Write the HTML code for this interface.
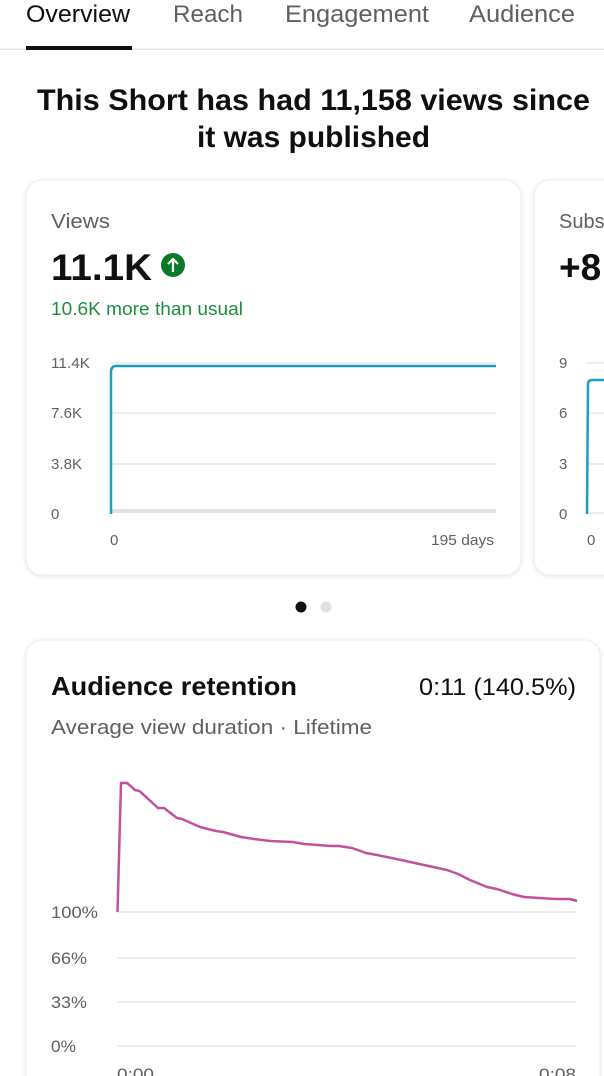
<!DOCTYPE html>
<html><head><style>
html,body{margin:0;padding:0;background:#fff;width:604px;height:1076px;overflow:hidden}
svg{display:block}
text{font-family:"Liberation Sans",sans-serif}
</style></head><body>
<svg width="604" height="1076" viewBox="0 0 604 1076" xmlns="http://www.w3.org/2000/svg">
<defs>
<filter id="sh" x="-5%" y="-5%" width="110%" height="110%"><feDropShadow dx="0" dy="1" stdDeviation="2" flood-color="#000" flood-opacity="0.10"/></filter>
</defs>
<!-- tabs -->
<g font-size="24">
<text x="26" y="22" fill="#0f0f0f" textLength="104" lengthAdjust="spacingAndGlyphs">Overview</text>
<text x="173" y="22" fill="#606060" textLength="70" lengthAdjust="spacingAndGlyphs">Reach</text>
<text x="285" y="22" fill="#606060" textLength="144" lengthAdjust="spacingAndGlyphs">Engagement</text>
<text x="469" y="22" fill="#606060" textLength="106" lengthAdjust="spacingAndGlyphs">Audience</text>
</g>
<rect x="0" y="48.5" width="604" height="1.5" fill="#e5e5e5"/>
<rect x="26" y="46" width="106" height="4" fill="#0f0f0f"/>
<!-- title -->
<g font-size="30" font-weight="bold" fill="#0f0f0f">
<text x="37" y="110" textLength="553" lengthAdjust="spacingAndGlyphs">This Short has had 11,158 views since</text>
<text x="197" y="147" textLength="233" lengthAdjust="spacingAndGlyphs">it was published</text>
</g>
<!-- cards -->
<rect x="26" y="180" width="495" height="395" rx="16" fill="#fff" stroke="#ececec" filter="url(#sh)"/>
<rect x="534" y="180" width="120" height="395" rx="16" fill="#fff" stroke="#ececec" filter="url(#sh)"/>
<text x="51" y="228" font-size="20" fill="#606060" textLength="59" lengthAdjust="spacingAndGlyphs">Views</text>
<text x="51" y="280" font-size="37" font-weight="bold" fill="#0f0f0f" textLength="101" lengthAdjust="spacingAndGlyphs">11.1K</text>
<circle cx="173" cy="265" r="12" fill="#0b7a26"/>
<path d="M173 272 V259 M168 264 L173 259 L178 264" stroke="#fff" stroke-width="2.2" fill="none"/>
<text x="51" y="315" font-size="18" fill="#1e8e3e" textLength="192" lengthAdjust="spacingAndGlyphs">10.6K more than usual</text>
<g stroke="#e8e8e8" stroke-width="1.5">
<line x1="111" y1="363" x2="496" y2="363"/><line x1="111" y1="413" x2="496" y2="413"/><line x1="111" y1="464" x2="496" y2="464"/>
</g>
<rect x="111" y="509" width="385" height="4" fill="#e2e2e2"/>
<g font-size="15" fill="#606060">
<text x="51" y="368" textLength="39" lengthAdjust="spacingAndGlyphs">11.4K</text>
<text x="51" y="418" textLength="31" lengthAdjust="spacingAndGlyphs">7.6K</text>
<text x="51" y="469" textLength="31" lengthAdjust="spacingAndGlyphs">3.8K</text>
<text x="51" y="519">0</text>
<text x="110" y="545">0</text>
<text x="494" y="545" text-anchor="end" textLength="63" lengthAdjust="spacingAndGlyphs">195 days</text>
</g>
<path d="M111 514 L111 372 Q111 366 116 366 L496 366" stroke="#1a9fc1" stroke-width="2.5" fill="none"/>
<!-- card 2 -->
<text x="559" y="228" font-size="20" fill="#606060">Subs</text>
<text x="559" y="280" font-size="37" font-weight="bold" fill="#0f0f0f">+8</text>
<g font-size="15" fill="#606060">
<text x="559" y="368">9</text><text x="559" y="418">6</text><text x="559" y="469">3</text><text x="559" y="519">0</text><text x="587" y="545">0</text>
</g>
<g stroke="#e8e8e8" stroke-width="1.5"><line x1="587" y1="363" x2="604" y2="363"/><line x1="587" y1="413" x2="604" y2="413"/><line x1="587" y1="464" x2="604" y2="464"/><line x1="587" y1="513" x2="604" y2="513"/></g>
<path d="M587 514 L588 384 Q588 380 592 380 L604 380" stroke="#1a9fc1" stroke-width="2.5" fill="none"/>
<!-- dots -->
<circle cx="301" cy="607" r="5.5" fill="#0f0f0f"/>
<circle cx="326" cy="607" r="5.5" fill="#e0e0e0"/>
<!-- retention card -->
<rect x="26" y="640" width="574" height="460" rx="16" fill="#fff" stroke="#ececec" filter="url(#sh)"/>
<text x="51" y="695" font-size="26" font-weight="bold" fill="#0f0f0f" textLength="246" lengthAdjust="spacingAndGlyphs">Audience retention</text>
<text x="576" y="695" font-size="24" fill="#0f0f0f" text-anchor="end" textLength="157" lengthAdjust="spacingAndGlyphs">0:11 (140.5%)</text>
<text x="51" y="734" font-size="20" fill="#606060" textLength="321" lengthAdjust="spacingAndGlyphs">Average view duration · Lifetime</text>
<g stroke="#e8e8e8" stroke-width="1.5">
<line x1="117" y1="912" x2="576" y2="912"/><line x1="117" y1="958" x2="576" y2="958"/><line x1="117" y1="1002" x2="576" y2="1002"/><line x1="117" y1="1046" x2="576" y2="1046"/>
</g>
<g font-size="17" fill="#606060">
<text x="51" y="918" textLength="47" lengthAdjust="spacingAndGlyphs">100%</text>
<text x="51" y="964" textLength="36" lengthAdjust="spacingAndGlyphs">66%</text>
<text x="51" y="1008" textLength="36" lengthAdjust="spacingAndGlyphs">33%</text>
<text x="51" y="1052" textLength="25" lengthAdjust="spacingAndGlyphs">0%</text>
<text x="117" y="1080" textLength="37" lengthAdjust="spacingAndGlyphs">0:00</text>
<text x="576" y="1080" text-anchor="end" textLength="37" lengthAdjust="spacingAndGlyphs">0:08</text>
</g>
<polyline fill="none" stroke="#c2509a" stroke-width="2.5" stroke-linejoin="round" points="117.5,912 121,783 127,783 135,790 139.5,791 158,808 164,808 177,818 182,819 200,827 216,831 223,832 241,837 254,839 270,841 293,842 304,844 331,846 339,846 352,848 366,853 377,855 401,860 424,865 447,870 458,874 470,880 487,887 497,889 512,894 524,897 555,899 570,899 577,901"/>
</svg>
</body></html>
